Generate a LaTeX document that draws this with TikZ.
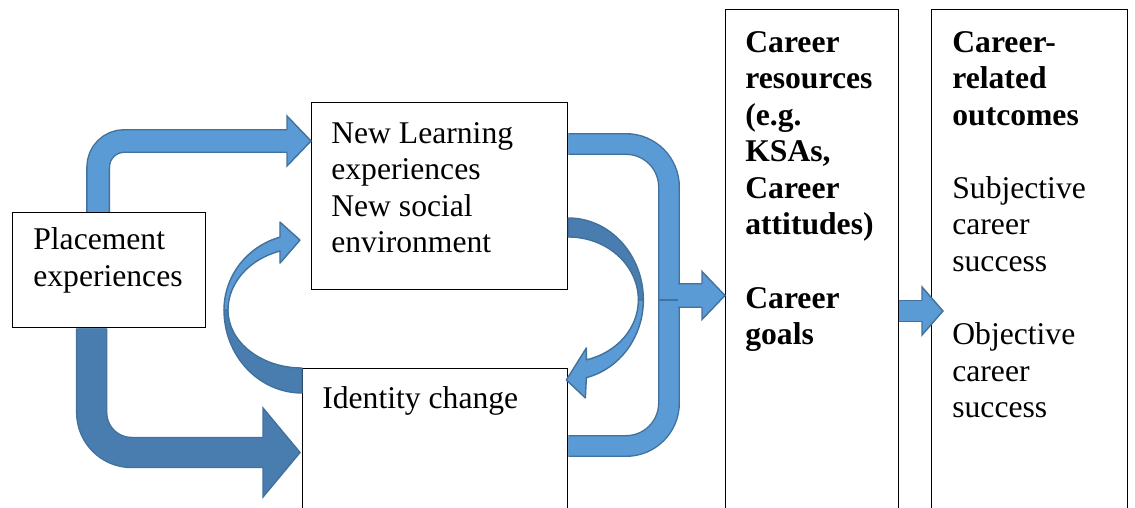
\documentclass[tikz,border=0pt]{standalone}
\usepackage{fontspec}
\setmainfont{Liberation Serif}
\usetikzlibrary{calc}
\definecolor{lblue}{RGB}{91,155,213}
\definecolor{dblue}{RGB}{73,125,176}
\definecolor{bord}{RGB}{65,113,156}
\tikzset{
  box/.style={draw, line width=0.8pt, inner sep=0pt, anchor=north west},
  txt/.style={anchor=north west, inner sep=0pt, align=left, font=\fontsize{18}{20.8}\selectfont},
  shaft/.style={draw=bord, line width=0.8pt, double=lblue, double distance=#1},
  band/.style={draw=bord, line width=0.8pt, line join=round},
  pics/head/.style args={#1/#2/#3/#4}{code={
    \fill[#4] (0,0) -- (-#1,#2) -- (-#1,-#2) -- cycle;
    \draw[bord, line width=0.8pt] (-#1,#3) -- (-#1,#2) -- (0,0) -- (-#1,-#2) -- (-#1,-#3);
  }}
}
\begin{document}
\begin{tikzpicture}[x=0.02cm, y=0.02cm]
     \path[use as bounding box] (0,0) rectangle (1135,507);
     \node[box, minimum width=3.86cm, minimum height=2.3cm] (place) at (12,295) {};
     \node[box, minimum width=5.12cm, minimum height=3.74cm] (learn) at (311,405) {};
     \node[box, minimum width=5.3cm, minimum height=3.1cm] (ident) at (302,139) {};
     \node[box, minimum width=3.46cm, minimum height=10.3cm] (res) at (725,498) {};
     \node[box, minimum width=3.92cm, minimum height=10.3cm] (out) at (931,498) {};
     \node[txt] (placetxt) at ($(place.north west)+(21,-11.7)$) {\strut Placement\\experiences};
     \node[txt] (learntxt) at ($(learn.north west)+(20,-15.3)$)
      {\strut New Learning\\experiences\\New social\\environment};
     \node[txt] (identtxt) at ($(ident.north west)+(20,-14.3)$) {\strut Identity change};
     \node[txt, font=\fontsize{18}{20.8}\selectfont\bfseries] (restxt) at ($(res.north west)+(20,-17.3)$)
      {\strut Career\\resources\\(e.g.\\KSAs,\\Career\\attitudes)\\[20.8pt]Career\\goals};
     \node[txt] (outtxt) at ($(out.north west)+(21,-17.3)$)
      {\strut\textbf{Career-}\\\textbf{related}\\\textbf{outcomes}\\[20.8pt]Subjective\\career\\success\\[20.8pt]Objective\\career\\success};
     \draw[shaft=12pt, rounded corners=0.52cm] ($(place.north)+(-11,0)$) |- ($(learn.north west)+(-23,-39)$);
     \pic at ($(learn.north west)+(0,-39)$) {head=24/25/11.3/lblue};
     \draw[shaft=16.3pt, double=dblue, rounded corners=0.8cm] ($(place.south)+(-17.5,0)$) |- ($(ident.north west)+(-38,-84.5)$);
     \pic at ($(ident.north west)+(-2,-84.5)$) {head=37/44.5/15/dblue};
     \draw[band, fill=dblue] ($(ident.north west)+(0,-25)$)
      arc[start angle=270, end angle=180, x radius=78, y radius=83] -- ++(4,0)
      arc[start angle=180, end angle=270, x radius=74, y radius=58] -- cycle;
     \draw[band, fill=lblue] ($(ident.north west)+(-78,58)$)
      arc[start angle=180, end angle=106.4, x radius=78, y radius=76]
      -- ++(0,15) -- ++(20,-18) -- ++(-20,-23) -- ++(0,12)
      arc[start angle=107.3, end angle=180, x radius=74, y radius=61.8] -- cycle;
     \draw[band, fill=dblue] ($(learn.north east)+(0,-116)$)
      arc[start angle=90, end angle=0, x radius=75, y radius=82] -- ++(-5,0)
      arc[start angle=0, end angle=90, x radius=70, y radius=63] -- cycle;
     \draw[band, fill=lblue] ($(learn.north east)+(75,-198)$)
      arc[start angle=0, end angle=-76.1, x radius=75, y radius=80]
      -- ++(-1,-20.3) -- ++(-19,18) -- ++(20,32) -- ++(0,-11.9)
      arc[start angle=-75.1, end angle=0, x radius=70, y radius=62] -- cycle;
     \coordinate (jn) at (669,207);
     \draw[shaft=10.9pt, rounded corners=0.86cm] ($(learn.north east)+(0,-42)$) -| (jn);
     \draw[shaft=10.9pt, rounded corners=0.86cm] ($(ident.north east)+(0,-78)$) -| (jn);
     \draw[bord, line width=0.8pt] ($(jn)+(-10.3,0)$) -- ($(jn)+(10.3,0)$);
     \draw[shaft=12.6pt] ($(jn)+(9,4.5)$) -- ($(res.north west)+(-22,-286.5)$);
     \pic at ($(res.north west)+(0,-286.5)$) {head=23/24/11.8/lblue};
     \draw[shaft=10.9pt] ($(res.north east)+(0,-302)$) -- ($(out.north west)+(-8,-302)$);
     \pic at ($(out.north west)+(12,-302)$) {head=21/24/10.3/lblue};
    \end{tikzpicture}
\end{document}
